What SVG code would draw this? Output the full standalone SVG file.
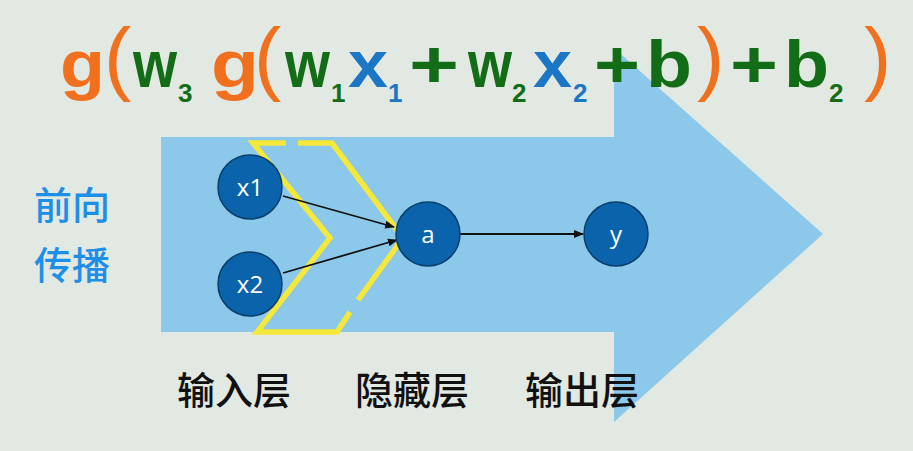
<svg xmlns="http://www.w3.org/2000/svg" width="913" height="451" viewBox="0 0 913 451">
<style>
.f{font-family:"Liberation Sans","DejaVu Sans",sans-serif;font-weight:bold}
.m{font-size:66px}
.p{font-size:82px;font-weight:normal}
.s{font-size:26px;font-weight:bold}
.or{fill:#f0701e}
.gr{fill:#136d17}
.bl{fill:#1c76c6}
.node circle{fill:#0b64ab;stroke:#0a3e6a;stroke-width:1.5}
.node text{fill:#ffffff;font-family:"Open Sans","DejaVu Sans",sans-serif;font-size:24px;text-anchor:middle}
.cjk{font-family:"Noto Sans CJK SC",sans-serif}
.lab{font-size:38px;fill:#111111;font-weight:500}
.yel{fill:none;stroke:#f5e83a;stroke-width:5.5;stroke-linecap:butt;stroke-linejoin:miter}
.edge{stroke:#111111;stroke-width:1.8;fill:none;marker-end:url(#ah)}
</style>
<defs>
<marker id="ah" viewBox="0 0 10 10" refX="9" refY="5" markerWidth="10" markerHeight="10" orient="auto" markerUnits="userSpaceOnUse">
<path d="M0,1 L10,5 L0,9 z" fill="#111111"/>
</marker>
</defs>
<rect width="913" height="451" fill="#e2e8e2"/>
<polygon id="arrow" points="161,137 614,137 614,48 823,234 614,422 614,332 161,332" fill="#8cc8ea"/>
<g id="yellow-chevrons">
<polyline class="yel" points="286,143 253,143 330,238 257,332 337,332 350,312"/>
<polyline class="yel" points="298,143 332,143 403,238 358,300"/>
</g>
<g id="connectors">
<line class="edge" x1="283" y1="196" x2="394" y2="227"/>
<line class="edge" x1="283" y1="273" x2="397" y2="240"/>
<line class="edge" x1="460" y1="234" x2="583" y2="234"/>
</g>
<g id="node-x1" class="node"><circle cx="250" cy="187" r="32"/><text x="250" y="196">x1</text></g>
<g id="node-x2" class="node"><circle cx="250" cy="284" r="32"/><text x="250" y="293">x2</text></g>
<g id="node-a" class="node"><circle cx="428" cy="234" r="32"/><text x="428" y="243">a</text></g>
<g id="node-y" class="node"><circle cx="616" cy="234" r="32"/><text x="616" y="243">y</text></g>
<g id="formula" class="f">
<text class="m or" x="60" y="87" textLength="45" lengthAdjust="spacingAndGlyphs">g</text>
<text class="p or" x="104" y="85">(</text>
<text class="m gr" x="133" y="87" textLength="44" lengthAdjust="spacingAndGlyphs">w</text>
<text class="s gr" x="178" y="102">3</text>
<text class="m or" x="211" y="87" textLength="48" lengthAdjust="spacingAndGlyphs">g</text>
<text class="p or" x="254" y="85">(</text>
<text class="m gr" x="285" y="87" textLength="45" lengthAdjust="spacingAndGlyphs">w</text>
<text class="s gr" x="331" y="102">1</text>
<text class="m bl" x="348" y="87" textLength="40" lengthAdjust="spacingAndGlyphs">x</text>
<text class="s bl" x="388" y="102">1</text>
<text class="m gr" x="409" y="87" textLength="50" lengthAdjust="spacingAndGlyphs">+</text>
<text class="m gr" x="468" y="87" textLength="44" lengthAdjust="spacingAndGlyphs">w</text>
<text class="s gr" x="512" y="102">2</text>
<text class="m bl" x="533" y="87" textLength="39" lengthAdjust="spacingAndGlyphs">x</text>
<text class="s bl" x="573" y="102">2</text>
<text class="m gr" x="594" y="87" textLength="46" lengthAdjust="spacingAndGlyphs">+</text>
<text class="m gr" x="646" y="87" textLength="46" lengthAdjust="spacingAndGlyphs">b</text>
<text class="p or" x="697" y="85">)</text>
<text class="m gr" x="730" y="87" textLength="48" lengthAdjust="spacingAndGlyphs">+</text>
<text class="m gr" x="784" y="87" textLength="45" lengthAdjust="spacingAndGlyphs">b</text>
<text class="s gr" x="829" y="102">2</text>
<text class="p or" x="864" y="85">)</text>
</g>
<g id="side-label" class="cjk" font-size="38" fill="#1e8fe6" font-weight="500">
<text x="34" y="219">前向</text>
<text x="34" y="279">传播</text>
</g>
<g id="layer-labels" class="cjk lab">
<text x="177" y="404">输入层</text>
<text x="355" y="404">隐藏层</text>
<text x="525" y="404">输出层</text>
</g>
</svg>
